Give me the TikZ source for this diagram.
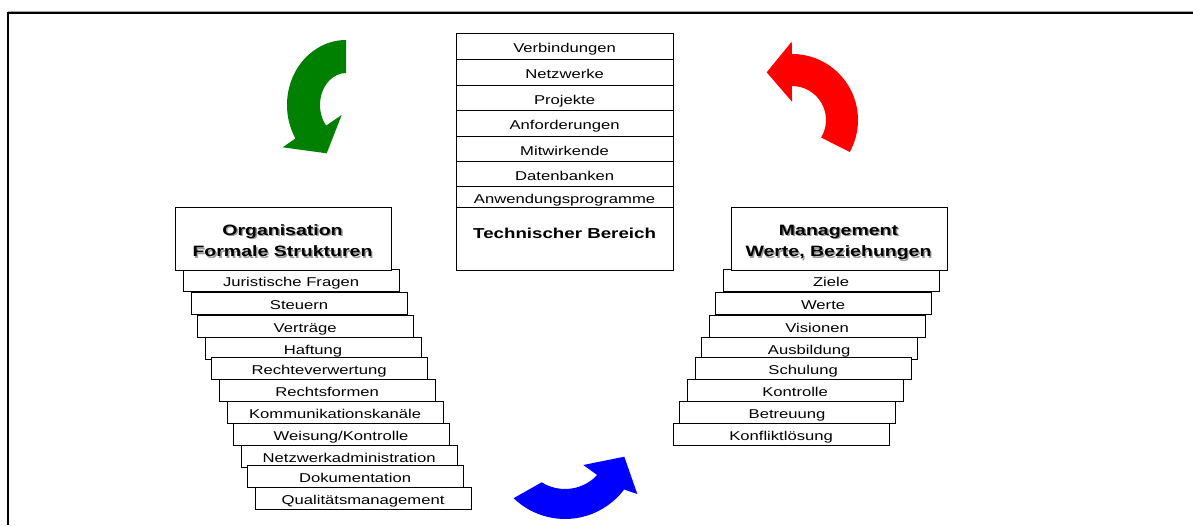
\documentclass[tikz,border=0pt]{standalone}
\usepackage{fontspec}
\setmainfont{Liberation Sans}[FakeStretch=1.3]
\definecolor{arrgreen}{RGB}{0,128,0}
\definecolor{arrred}{RGB}{255,0,0}
\definecolor{arrblue}{RGB}{0,0,255}
% bold heading text with a soft grey drop shadow
\newcommand\shadowed[1]{\makebox[0pt][l]{\hspace*{1.4pt}\raisebox{-1.4pt}{\textcolor{black!40}{#1}}}#1}
\begin{document}
\begin{tikzpicture}[x=1pt,y=-1pt,
  box/.style={draw=black, fill=white, line width=1.2pt, inner sep=0pt, anchor=north west},
  rowbox/.style={box, minimum width=216pt, minimum height=22.5pt,
    text height=13pt, text depth=1pt, font=\fontsize{12.8}{14}\selectfont},
  techrow/.style={box, minimum width=217pt, minimum height=26.5pt,
    text height=13pt, text depth=1pt, font=\fontsize{12.8}{14}\selectfont},
  headbox/.style={box, minimum width=216pt, minimum height=63pt},
  headline/.style={anchor=base, inner sep=0pt, font=\fontsize{15}{18}\selectfont\bfseries},
  frame/.style={line width=2pt, black}
]
\useasboundingbox (0,0) rectangle (1193,525);

% outer frame (top and left edges only)
\draw[black!35, line width=1pt] (7.5,11.3) -- (1193,11.3);
\draw[frame] (1193,13) -- (8.3,13) -- (8.3,525);

% ---- technical stack (centre) ----
\node[techrow] (c1) at (455.5,32.5)  {Verbindungen};
\node[techrow] (c2) at (455.5,58.5)  {Netzwerke};
\node[techrow] (c3) at (455.5,84.5)  {Projekte};
\node[techrow] (c4) at (455.5,109.5) {Anforderungen};
\node[techrow] (c5) at (455.5,135.5) {Mitwirkende};
\node[techrow] (c6) at (455.5,160.5) {Datenbanken};
\node[techrow, minimum height=23pt] (c7) at (455.5,185.5) {Anwendungsprogramme};
\node[box, minimum width=217pt, minimum height=63pt, text height=10pt, text depth=10pt,
      font=\fontsize{14.4}{17}\selectfont\bfseries] (tech) at (455.5,206.5) {Technischer Bereich};

% ---- organisation stair (left) ----
\node[rowbox] (l1)  at (182.5,268.5) {Juristische Fragen};
\node[rowbox] (l2)  at (190.5,291.5) {Steuern};
\node[rowbox] (l3)  at (196.5,314.5) {Verträge};
\node[rowbox] (l4)  at (204.5,336.5) {Haftung};
\node[rowbox] (l5)  at (210.5,356.5) {Rechteverwertung};
\node[rowbox] (l6)  at (218.5,378.5) {Rechtsformen};
\node[rowbox] (l7)  at (226.5,400.5) {Kommunikationskanäle};
\node[rowbox] (l8)  at (232.5,422.5) {Weisung/Kontrolle};
\node[rowbox] (l9)  at (240.5,444.5) {Netzwerkadministration};
\node[rowbox] (l10) at (246.5,464.5) {Dokumentation};
\node[rowbox, minimum height=22pt] (l11) at (254.5,486.5) {Qualitätsmanagement};
\node[headbox] (org) at (174.5,206.5) {};
\node[headline] (org1) at (282.5,235)   {\shadowed{Organisation}};
\node[headline] (org2) at (282.5,256.7) {\shadowed{Formale Strukturen}};

% ---- management stair (right) ----
\node[rowbox] (r1) at (722.5,268.5) {Ziele};
\node[rowbox] (r2) at (714.5,291.5) {Werte};
\node[rowbox] (r3) at (708.5,314.5) {Visionen};
\node[rowbox] (r4) at (700.5,336.5) {Ausbildung};
\node[rowbox] (r5) at (694.5,356.5) {Schulung};
\node[rowbox] (r6) at (686.5,378.5) {Kontrolle};
\node[rowbox] (r7) at (678.5,400.5) {Betreuung};
\node[rowbox, minimum height=22pt] (r8) at (672.5,422.5) {Konfliktlösung};
\node[headbox] (mgmt) at (730.5,206.5) {};
\node[headline] (mg1) at (838.5,235)   {\shadowed{Management}};
\node[headline] (mg2) at (838.5,256.7) {\shadowed{Werte, Beziehungen}};

% ---- curved cycle arrows ----
% green: turning down towards the organisation stair
\fill[arrgreen] (346,40) arc[start angle=-90, end angle=-211, x radius=59, y radius=65]
  -- (282.7,147.3) -- (326.7,153.3) -- (341.7,115) -- (326.1,125.6)
  arc[start angle=-220, end angle=-90, x radius=26, y radius=32] -- cycle;
% red: turning up and to the left
\fill[arrred] (792,54) arc[start angle=-90, end angle=29, radius=66]
  -- (821.1,137.5) arc[start angle=31, end angle=-90, radius=34]
  -- (792,101.7) -- (766.7,72.3) -- (791.7,41.7) -- cycle;
% blue: sweeping from left to right along the bottom
\fill[arrblue] (541.7,482.3) -- (513.6,498.2) arc[start angle=134, end angle=37, radius=74]
  -- (637.3,494) -- (624.3,456.7) -- (583.3,465) -- (597.2,475)
  arc[start angle=43, end angle=122, radius=44] -- cycle;
\end{tikzpicture}
\end{document}
